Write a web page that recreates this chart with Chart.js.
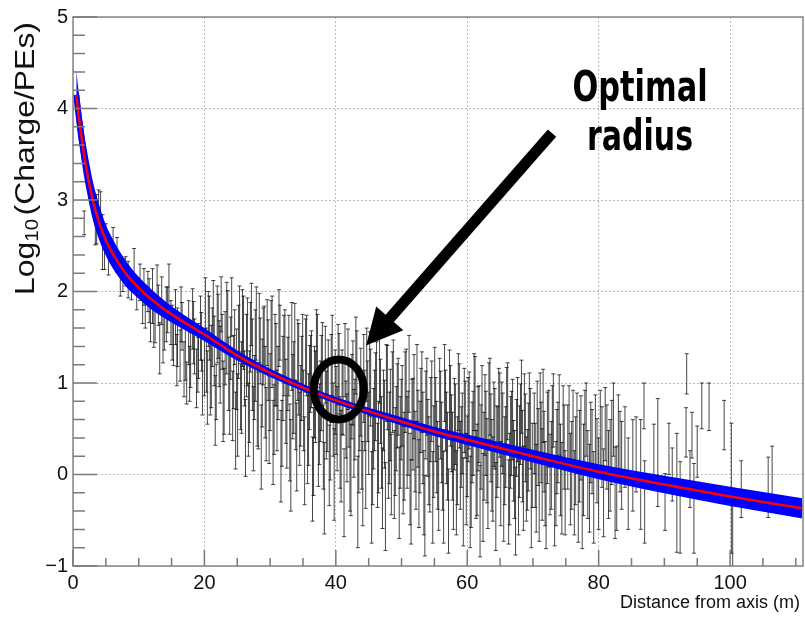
<!DOCTYPE html>
<html>
<head>
<meta charset="utf-8">
<script src="https://cdn.jsdelivr.net/npm/chart.js@4/dist/chart.umd.min.js"></script>
<style>
  html, body { margin: 0; padding: 0; background: #fff; }
  #wrap { width: 805px; height: 617px; }
</style>
</head>
<body>
<div id="wrap"><canvas id="c" width="805" height="617"></canvas></div>
<script>
// ---- Measured points: distance from axis (m), log10 charge, half error ----
const ptX = [
  1.7, 3.4, 3.6, 3.9, 4.2, 4.5, 4.8, 5.0, 5.4, 6.1, 6.7, 7.2, 7.6, 8.0, 8.4, 8.9, 9.3, 9.7, 10.2,
  10.6, 11.0, 11.4, 11.8, 12.1, 12.5, 12.8, 13.2, 13.5, 13.9, 14.2, 14.6, 14.9, 15.3, 15.6, 15.9, 16.3, 16.6, 16.9, 17.3, 17.6, 17.9, 18.2, 18.5, 18.8, 19.1, 19.4, 19.7, 20.0,
  10.8, 11.6, 12.3, 13.0, 13.7, 14.4, 15.1, 15.8, 16.45, 17.1, 17.75, 18.35, 19.0, 19.55,
  20.3, 20.6, 20.9, 21.2, 21.5, 21.8, 22.1, 22.4, 22.7, 23.0, 23.4, 23.7, 24.0, 24.3, 24.6, 24.9,
  20.15, 20.45, 20.75, 21.05, 21.35, 21.65, 21.95, 22.25, 22.55, 22.85, 23.15, 23.55, 23.85, 24.15, 24.45, 24.75,
  25.2, 25.5, 25.8, 26.1, 26.4, 26.7, 27.0, 27.3, 27.6, 27.9, 28.2, 28.5, 28.8, 29.1, 29.4, 29.7,
  25.05, 25.35, 25.65, 25.95, 26.25, 26.55, 26.85, 27.15, 27.45, 27.75, 28.05, 28.35, 28.65, 28.95, 29.25, 29.55, 29.85,
  30.0, 30.3, 30.6, 30.9, 31.2, 31.5, 31.8, 32.1, 32.4, 32.7, 33.0, 33.3, 33.6, 33.9, 34.2, 34.5, 34.8,
  30.15, 30.45, 30.75, 31.05, 31.35, 31.65, 31.95, 32.25, 32.55, 32.85, 33.15, 33.45, 33.75, 34.05, 34.35, 34.65, 34.95,
  35.1, 35.4, 35.7, 36.0, 36.3, 36.6, 36.9, 37.2, 37.5, 37.8, 38.1, 38.4, 38.7, 39.0, 39.3, 39.6, 39.9,
  35.25, 35.55, 35.85, 36.15, 36.45, 36.75, 37.05, 37.35, 37.65, 37.95, 38.25, 38.55, 38.85, 39.15, 39.45, 39.75, 40.05,
  40.2, 40.5, 40.8, 41.1, 41.4, 41.7, 42.0, 42.3, 42.6, 42.9, 43.2, 43.5, 43.8, 44.1, 44.4, 44.7,
  40.35, 40.65, 40.95, 41.25, 41.55, 41.85, 42.15, 42.45, 42.75, 43.05, 43.35, 43.65, 43.95, 44.25, 44.55, 44.85,
  45.0, 45.3, 45.6, 45.9, 46.2, 46.5, 46.8, 47.1, 47.4, 47.7, 48.0, 48.3, 48.6, 48.9, 49.2, 49.5, 49.8,
  45.15, 45.45, 45.75, 46.05, 46.35, 46.65, 46.95, 47.25, 47.55, 47.85, 48.15, 48.45, 48.75, 49.05, 49.35, 49.65, 49.95,
  50.1, 50.4, 50.7, 51.0, 51.3, 51.6, 51.9, 52.2, 52.5, 52.8, 53.1, 53.4, 53.7, 54.0, 54.3, 54.6, 54.9,
  50.25, 50.55, 50.85, 51.15, 51.45, 51.75, 52.05, 52.35, 52.65, 52.95, 53.25, 53.55, 53.85, 54.15, 54.45, 54.75,
  55.2, 55.5, 55.8, 56.1, 56.4, 56.7, 57.0, 57.3, 57.6, 57.9, 58.2, 58.5, 58.8, 59.1, 59.4, 59.7,
  55.05, 55.35, 55.65, 55.95, 56.25, 56.55, 56.85, 57.15, 57.45, 57.75, 58.05, 58.35, 58.65, 58.95, 59.25, 59.55, 59.85,
  60.0, 60.3, 60.6, 60.9, 61.2, 61.5, 61.8, 62.1, 62.4, 62.7, 63.0, 63.3, 63.6, 63.9, 64.2, 64.5, 64.8,
  60.15, 60.45, 60.75, 61.05, 61.35, 61.65, 61.95, 62.25, 62.55, 62.85, 63.15, 63.45, 63.75, 64.05, 64.35, 64.65, 64.95,
  65.1, 65.4, 65.7, 66.0, 66.3, 66.6, 66.9, 67.2, 67.5, 67.8, 68.1, 68.4, 68.7, 69.0, 69.3, 69.6, 69.9,
  65.25, 65.55, 65.85, 66.15, 66.45, 66.75, 67.05, 67.35, 67.65, 67.95, 68.25, 68.55, 68.85, 69.15, 69.45, 69.75,
  70.2, 70.5, 70.8, 71.1, 71.4, 71.7, 72.0, 72.4, 72.8, 73.1, 73.5, 73.8, 74.2, 74.6, 74.9,
  70.35, 70.65, 70.95, 71.25, 71.55, 71.85, 72.2, 72.6, 72.95, 73.3, 73.65, 74.0, 74.4, 74.75,
  75.3, 75.7, 76.1, 76.5, 76.9, 77.3, 77.7, 78.1, 78.6, 79.0, 79.5, 80.0, 80.5, 81.0, 81.5, 82.0, 82.5, 83.0, 83.5, 84.0, 84.5,
  75.5, 75.9, 76.3, 76.7, 77.1, 77.5, 77.9, 78.35, 78.8, 79.25, 79.75, 80.25, 80.75, 81.25, 81.75, 82.25, 82.75, 83.25,
  85.2, 85.7, 86.4, 86.9, 87.0, 88.4, 89.0, 90.1, 90.7, 91.2, 91.9, 92.4, 93.3, 93.4, 93.9, 94.2, 94.5, 95.0, 95.7, 96.8, 99.1, 100.2, 100.4, 101.7, 105.8, 106.4
];
const ptY = [
  2.75, 2.64, 2.79, 3.0, 2.94, 2.54, 2.46, 2.62, 2.3, 2.55, 2.4, 2.15, 2.18, 2.22, 2.13, 2.05, 2.25, 1.95, 2.1,
  1.85, 1.8, 2.0, 1.7, 1.95, 1.62, 2.05, 1.38, 1.9, 1.58, 1.75, 2.02, 1.66, 1.45, 1.72, 1.5, 1.3, 1.62, 1.15, 1.0, 1.55, 1.25, 1.7, 1.4, 1.05, 1.35, 1.6, 0.95, 1.2,
  2.05, 1.9, 1.65, 1.85, 1.5, 1.8, 1.55, 1.25, 1.75, 1.35, 1.1, 1.55, 1.2, 1.45,
  1.25, 1.7, 1.05, 1.5, 1.35, 0.9, 1.62, 1.2, 1.45, 0.8, 1.6, 1.1, 1.38, 0.75, 1.5, 1.15,
  1.85, 0.95, 1.6, 1.18, 1.8, 0.7, 1.64, 1.32, 1.86, 0.8, 1.38, 1.67, 0.9, 1.83, 1.12, 0.48,
  1.45, 0.85, 1.6, 1.05, 1.3, 0.6, 1.5, 1.2, 0.95, 1.65, 0.7, 1.35, 1.0, 1.5, 0.55, 1.25,
  0.65, 1.7, 0.95, 1.55, 0.4, 1.45, 0.85, 1.75, 0.5, 1.3, 0.75, 1.6, 0.3, 1.4, 0.9, 1.55, 0.6,
  0.9, 1.45, 0.6, 1.2, 1.0, 1.55, 0.45, 1.3, 0.8, 1.1, 0.35, 1.4, 0.95, 0.65, 1.25, 0.5, 1.05,
  1.5, 0.35, 1.25, 0.7, 1.6, 0.2, 1.05, 1.4, 0.55, 1.3, 0.1, 0.85, 1.45, 0.3, 1.15, 0.75, 1.35,
  0.7, 1.3, 0.4, 0.95, 1.15, 0.25, 0.85, 1.35, 0.55, 1.0, 0.3, 1.2, 0.75, 0.1, 1.05, 0.6, 0.9,
  0.15, 1.3, 0.6, 1.1, -0.05, 0.9, 1.4, 0.35, 0.8, 1.2, -0.15, 0.65, 1.05, 0.4, 1.3, 0.0, 0.7,
  0.5, 1.1, 0.2, 0.85, 1.25, 0.4, 0.75, 0.05, 1.0, 0.6, 1.15, 0.3, 0.9, -0.1, 0.7, 1.2,
  1.2, 0.35, 0.9, -0.2, 0.6, 1.15, 0.1, 0.85, 0.45, 1.3, -0.3, 0.7, 0.3, 1.05, 0.15, 0.8,
  0.45, 0.95, 0.15, 0.7, 1.05, 0.3, 0.8, -0.15, 0.55, 1.0, 0.2, 0.65, 0.9, 0.0, 0.5, 0.85, 0.35,
  1.1, -0.25, 0.5, 0.85, 0.1, 1.2, 0.35, 0.7, -0.35, 0.95, 0.4, 0.0, 1.05, 0.25, 0.75, -0.2, 0.6,
  0.75, 0.2, 0.95, 0.45, -0.05, 0.6, 0.85, 0.1, 0.5, 0.3, 0.9, -0.2, 0.65, 0.4, 0.05, 0.8, 0.25,
  0.05, 0.9, 0.35, 1.1, -0.3, 0.55, 0.25, 1.0, -0.1, 0.7, 0.4, -0.45, 0.85, 0.15, 0.6, -0.25,
  0.6, 0.1, 0.85, 0.35, -0.25, 0.7, 0.2, 0.9, 0.45, -0.1, 0.55, 0.15, 0.75, 0.3, -0.3, 0.6,
  0.95, 0.3, -0.15, 0.65, 0.05, 1.0, 0.4, -0.4, 0.75, 0.2, 0.55, -0.2, 0.9, 0.1, 0.45, 0.7, -0.05,
  0.2, 0.7, -0.1, 0.45, 0.85, 0.05, 0.55, 0.3, -0.25, 0.65, 0.15, 0.8, 0.4, -0.05, 0.5, 0.25, 0.7,
  0.6, -0.3, 0.35, 0.9, 0.0, 0.5, -0.4, 0.75, 0.2, 0.45, -0.15, 0.85, 0.1, 0.55, -0.35, 0.3, 0.65,
  -0.1, 0.45, 0.15, 0.75, -0.3, 0.35, 0.6, 0.0, 0.4, -0.2, 0.55, 0.2, 0.7, -0.05, 0.3, 0.5, 0.1,
  0.55, -0.25, 0.3, 0.8, -0.05, 0.45, 0.15, -0.4, 0.6, 0.25, 0.85, -0.15, 0.4, 0.05, 0.65, -0.3,
  0.45, -0.15, 0.3, 0.65, 0.0, 0.25, -0.35, 0.5, 0.1, 0.7, -0.1, 0.35, 0.05, 0.55, -0.2,
  0.1, 0.6, -0.25, 0.35, 0.75, -0.1, 0.4, 0.0, 0.55, -0.3, 0.25, 0.65, -0.15, 0.3,
  0.3, -0.05, 0.5, 0.15, -0.3, 0.4, 0.05, 0.6, -0.15, 0.25, 0.45, -0.1, 0.3, 0.55, 0.0, 0.35, -0.2, 0.45, 0.1, 0.3, -0.1,
  0.55, 0.1, -0.2, 0.45, 0.2, -0.35, 0.5, 0.0, 0.35, -0.25, 0.15, 0.5, -0.2, 0.3, 0.1, 0.6, -0.15, 0.25,
  0.1, 0.22, 0.0, 0.75, -0.3, 0.27, 0.24, -0.3, 0.28, 0.0, -0.2, -0.36, 0.46, 1.1, -0.05, 0.43, -0.37, 0.25, 0.75, 0.74, 0.54, -0.15, -0.6, -0.16, -0.14, 0.02
];
const ptErr = [
  0.13, 0.13, 0.27, 0.11, 0.15, 0.3, 0.22, 0.12, 0.12, 0.15, 0.19, 0.2, 0.18, 0.16, 0.2, 0.14, 0.22, 0.15, 0.2,
  0.2, 0.2, 0.22, 0.25, 0.3, 0.18, 0.24, 0.28, 0.26, 0.22, 0.3, 0.28, 0.24, 0.26, 0.3, 0.32, 0.28, 0.26, 0.3, 0.23, 0.35, 0.3, 0.33, 0.3, 0.32, 0.3, 0.35, 0.3, 0.34,
  0.2, 0.24, 0.26, 0.22, 0.28, 0.25, 0.3, 0.28, 0.3, 0.32, 0.3, 0.34, 0.3, 0.32,
  0.35, 0.3, 0.4, 0.32, 0.38, 0.3, 0.35, 0.42, 0.3, 0.36, 0.5, 0.4, 0.34, 0.38, 0.3, 0.44,
  0.3, 0.4, 0.35, 0.45, 0.32, 0.38, 0.42, 0.36, 0.3, 0.44, 0.4, 0.34, 0.46, 0.32, 0.4, 0.42,
  0.4, 0.36, 0.42, 0.3, 0.45, 0.4, 0.38, 0.5, 0.35, 0.4, 0.42, 0.36, 0.48, 0.34, 0.4, 0.44,
  0.45, 0.36, 0.5, 0.4, 0.42, 0.48, 0.5, 0.34, 0.46, 0.5, 0.44, 0.38, 0.46, 0.42, 0.5, 0.36, 0.48,
  0.42, 0.5, 0.38, 0.45, 0.4, 0.3, 0.36, 0.44, 0.46, 0.4, 0.42, 0.48, 0.5, 0.38, 0.44, 0.4, 0.46,
  0.4, 0.46, 0.5, 0.44, 0.42, 0.5, 0.46, 0.4, 0.48, 0.44, 0.5, 0.46, 0.42, 0.48, 0.5, 0.44, 0.4,
  0.44, 0.4, 0.5, 0.46, 0.42, 0.48, 0.5, 0.4, 0.44, 0.52, 0.46, 0.42, 0.5, 0.44, 0.48, 0.4, 0.46,
  0.48, 0.44, 0.5, 0.42, 0.46, 0.5, 0.4, 0.48, 0.44, 0.46, 0.5, 0.48, 0.42, 0.46, 0.44, 0.5, 0.48,
  0.46, 0.44, 0.5, 0.42, 0.4, 0.48, 0.45, 0.5, 0.46, 0.44, 0.42, 0.5, 0.48, 0.46, 0.44, 0.4,
  0.44, 0.5, 0.46, 0.48, 0.42, 0.44, 0.5, 0.46, 0.48, 0.42, 0.5, 0.44, 0.46, 0.48, 0.52, 0.44,
  0.45, 0.42, 0.48, 0.44, 0.4, 0.5, 0.46, 0.44, 0.48, 0.42, 0.46, 0.5, 0.44, 0.48, 0.46, 0.42, 0.5,
  0.46, 0.5, 0.44, 0.48, 0.46, 0.42, 0.5, 0.44, 0.48, 0.46, 0.5, 0.44, 0.42, 0.48, 0.46, 0.5, 0.44,
  0.44, 0.48, 0.42, 0.46, 0.5, 0.44, 0.46, 0.48, 0.42, 0.5, 0.44, 0.46, 0.48, 0.42, 0.46, 0.44, 0.5,
  0.48, 0.44, 0.5, 0.42, 0.46, 0.5, 0.44, 0.42, 0.48, 0.46, 0.5, 0.44, 0.42, 0.48, 0.46, 0.5,
  0.46, 0.48, 0.42, 0.44, 0.5, 0.44, 0.48, 0.46, 0.42, 0.5, 0.44, 0.48, 0.46, 0.44, 0.48, 0.42,
  0.44, 0.5, 0.46, 0.48, 0.44, 0.42, 0.5, 0.46, 0.44, 0.48, 0.5, 0.46, 0.42, 0.48, 0.44, 0.46, 0.5,
  0.44, 0.42, 0.48, 0.46, 0.44, 0.5, 0.42, 0.46, 0.48, 0.44, 0.46, 0.42, 0.48, 0.46, 0.44, 0.5, 0.46,
  0.46, 0.5, 0.44, 0.42, 0.48, 0.46, 0.5, 0.44, 0.48, 0.46, 0.44, 0.42, 0.5, 0.46, 0.48, 0.44, 0.46,
  0.46, 0.44, 0.48, 0.42, 0.46, 0.5, 0.44, 0.48, 0.42, 0.46, 0.44, 0.5, 0.4, 0.46, 0.48, 0.44, 0.46,
  0.46, 0.48, 0.44, 0.42, 0.5, 0.46, 0.44, 0.48, 0.46, 0.5, 0.4, 0.46, 0.48, 0.44, 0.46, 0.5,
  0.44, 0.48, 0.42, 0.46, 0.5, 0.44, 0.46, 0.42, 0.48, 0.4, 0.46, 0.44, 0.5, 0.42, 0.46,
  0.46, 0.42, 0.48, 0.44, 0.4, 0.46, 0.5, 0.44, 0.42, 0.48, 0.46, 0.44, 0.5, 0.46,
  0.46, 0.5, 0.42, 0.48, 0.44, 0.46, 0.5, 0.4, 0.48, 0.46, 0.42, 0.5, 0.44, 0.4, 0.48, 0.46, 0.5, 0.42, 0.48, 0.44, 0.5,
  0.42, 0.48, 0.46, 0.44, 0.5, 0.46, 0.42, 0.48, 0.44, 0.5, 0.46, 0.42, 0.48, 0.46, 0.5, 0.4, 0.46, 0.44,
  0.5, 0.41, 0.6, 0.25, 0.45, 0.28, 0.59, 0.31, 0.28, 0.29, 0.65, 0.5, 0.27, 0.22, 0.31, 0.25, 0.49, 0.28, 0.25, 0.26, 0.27, 0.71, 0.45, 0.31, 0.33, 0.29
];

// ---- Fitted lateral distribution and its uncertainty band ----
const fitX = [0.5, 0.8, 1, 1.5, 2, 2.5, 3, 4, 5, 6, 8, 10, 12, 15, 20, 25, 30, 35, 40, 45, 50, 55, 60, 70, 80, 90, 100, 111];
const fitY = [4.15, 3.95, 3.85, 3.58, 3.36, 3.17, 3.0, 2.75, 2.56, 2.42, 2.2, 2.04, 1.91, 1.75, 1.53, 1.30, 1.11, 0.95, 0.81, 0.69, 0.58, 0.47, 0.38, 0.20, 0.03, -0.11, -0.24, -0.37];
const fitErr = [0.28, 0.27, 0.26, 0.24, 0.23, 0.22, 0.21, 0.19, 0.17, 0.16, 0.14, 0.12, 0.11, 0.09, 0.07, 0.055, 0.045, 0.04, 0.035, 0.04, 0.045, 0.05, 0.058, 0.07, 0.082, 0.095, 0.105, 0.11];

// ---- Axis ranges and tick labels ----
const xRange = [0, 111.1];
const yRange = [-1, 5];
const xTickStep = 20;
const yTickStep = 1;
const xTitle = 'Distance from axis (m)';

// ---- Annotation: marker at the optimal radius ----
const noteLines = ['Optimal', 'radius'];
const ringAt = { x: 40.45, y: 0.93 };
const arrowFrom = { x: 72.9, y: 3.73 };
const arrowTo = { x: 44.6, y: 1.41 };
const noteAt = { x: 86.3, y: [4.08, 3.55] };

const fitPts = fitX.map((x, i) => ({ x, y: fitY[i] }));
const bandHi = fitX.map((x, i) => ({ x, y: fitY[i] + fitErr[i] }));
const bandLo = fitX.map((x, i) => ({ x, y: fitY[i] - fitErr[i] }));
const points = ptX.map((x, i) => ({ x, y: ptY[i] }));

Chart.defaults.font.family = '"Liberation Sans", Arial, Helvetica, sans-serif';

// Vertical error bars with small caps, drawn beneath the fit band
const errorBars = {
  id: 'errorBars',
  beforeDatasetsDraw(chart) {
    const { ctx, chartArea: a, scales: { y } } = chart;
    const meta = chart.getDatasetMeta(4);
    ctx.save();
    ctx.beginPath();
    ctx.rect(a.left, a.top, a.right - a.left, a.bottom - a.top);
    ctx.clip();
    ctx.strokeStyle = 'rgba(0,0,0,0.72)';
    ctx.lineWidth = 1;
    meta.data.forEach((el, i) => {
      const px = el.x;
      const top = y.getPixelForValue(ptY[i] + ptErr[i]);
      const bot = y.getPixelForValue(ptY[i] - ptErr[i]);
      ctx.beginPath();
      ctx.moveTo(px, top); ctx.lineTo(px, bot);
      ctx.moveTo(px - 2, top); ctx.lineTo(px + 2, top);
      ctx.moveTo(px - 2, bot); ctx.lineTo(px + 2, bot);
      ctx.stroke();
    });
    ctx.restore();
  }
};

// Frame, inward tick marks, axis titles and the annotation
const decorations = {
  id: 'decorations',
  afterDatasetsDraw(chart) {
    const { ctx, chartArea: a, scales: { x, y } } = chart;
    ctx.save();
    // frame
    ctx.strokeStyle = '#858585';
    ctx.lineWidth = 1.5;
    ctx.strokeRect(a.left, a.top, a.right - a.left, a.bottom - a.top);
    // y ticks (major every 1, minor every 0.2)
    ctx.strokeStyle = '#7a7a7a';
    ctx.lineWidth = 1.5;
    ctx.beginPath();
    for (let k = 0; k <= 30; k++) {
      const v = yRange[0] + k * 0.2;
      const py = y.getPixelForValue(v);
      const len = (k % 5 === 0) ? 24 : 12;
      ctx.moveTo(a.left, py); ctx.lineTo(a.left + len, py);
    }
    // x ticks (major every 20, minor every 5)
    for (let v = 0; v <= 110; v += 5) {
      const px = x.getPixelForValue(v);
      const len = (v % 20 === 0) ? 16 : 8;
      ctx.moveTo(px, a.bottom); ctx.lineTo(px, a.bottom - len);
    }
    ctx.stroke();

    // x title, right aligned under the axis
    ctx.fillStyle = '#111';
    ctx.font = '18px "Liberation Sans", Arial, sans-serif';
    ctx.textAlign = 'right';
    ctx.textBaseline = 'alphabetic';
    ctx.fillText(xTitle, 800, 608);

    // y title: Log10(Charge/PEs) with subscript, reading upwards
    ctx.save();
    ctx.translate(33.5, 158.5);
    ctx.rotate(-Math.PI / 2);
    const big = '28px "Liberation Sans", Arial, sans-serif';
    const small = '18px "Liberation Sans", Arial, sans-serif';
    ctx.font = big; const w1 = ctx.measureText('Log').width;
    ctx.font = small; const w2 = ctx.measureText('10').width;
    ctx.font = big; const w3 = ctx.measureText('(Charge/PEs)').width;
    const gap = 3;
    const total = w1 + w2 + gap + w3;
    const sx = 273 / total;
    ctx.scale(sx, 1);
    ctx.textAlign = 'left';
    let cx = -total / 2;
    ctx.font = big; ctx.fillText('Log', cx, 0); cx += w1;
    ctx.font = small; ctx.fillText('10', cx, 4); cx += w2 + gap;
    ctx.font = big; ctx.fillText('(Charge/PEs)', cx, 0);
    ctx.restore();

    // ring around the optimal radius
    const rx = x.getPixelForValue(ringAt.x);
    const ry = y.getPixelForValue(ringAt.y);
    ctx.strokeStyle = '#000';
    ctx.lineWidth = 8;
    ctx.beginPath();
    ctx.ellipse(rx, ry, 25, 30, 0, 0, Math.PI * 2);
    ctx.stroke();

    // arrow pointing at it
    const x0 = x.getPixelForValue(arrowFrom.x), y0 = y.getPixelForValue(arrowFrom.y);
    const x1 = x.getPixelForValue(arrowTo.x), y1 = y.getPixelForValue(arrowTo.y);
    const dx = x1 - x0, dy = y1 - y0, L = Math.hypot(dx, dy);
    const ux = dx / L, uy = dy / L, nx = -uy, ny = ux;
    const headLen = 36, headHalf = 18;
    const bx = x1 - ux * headLen, by = y1 - uy * headLen;
    ctx.lineWidth = 11;
    ctx.lineCap = 'butt';
    ctx.beginPath();
    ctx.moveTo(x0, y0); ctx.lineTo(bx + ux * 4, by + uy * 4);
    ctx.stroke();
    ctx.fillStyle = '#000';
    ctx.beginPath();
    ctx.moveTo(x1, y1);
    ctx.lineTo(bx + nx * headHalf, by + ny * headHalf);
    ctx.lineTo(bx - nx * headHalf, by - ny * headHalf);
    ctx.closePath();
    ctx.fill();

    // label
    const tx = x.getPixelForValue(noteAt.x);
    ctx.font = 'bold 43px "DejaVu Sans Condensed", "Liberation Sans Narrow", "Open Sans", sans-serif';
    ctx.textAlign = 'center';
    const targetW = [135, 106];
    noteLines.forEach((t, i) => {
      const ty = y.getPixelForValue(noteAt.y[i]);
      const w = ctx.measureText(t).width;
      ctx.save();
      ctx.translate(tx, ty);
      ctx.scale(targetW[i] / w, 1);
      ctx.fillText(t, 0, 0);
      ctx.restore();
    });
    ctx.restore();
  }
};

new Chart(document.getElementById('c'), {
  type: 'scatter',
  data: {
    datasets: [
      { type: 'line', data: fitPts, borderColor: '#ff0000', borderWidth: 2.5, pointRadius: 0, fill: false, cubicInterpolationMode: 'monotone' },
      { type: 'line', data: fitPts, borderColor: '#0000ff', borderWidth: 6, pointRadius: 0, fill: false, cubicInterpolationMode: 'monotone' },
      { type: 'line', data: bandHi, borderColor: 'rgba(0,0,0,0)', borderWidth: 0, backgroundColor: '#0000ff', pointRadius: 0, fill: '+1', cubicInterpolationMode: 'monotone' },
      { type: 'line', data: bandLo, borderColor: 'rgba(0,0,0,0)', borderWidth: 0, pointRadius: 0, fill: false, cubicInterpolationMode: 'monotone' },
      { type: 'scatter', data: points, pointRadius: 0, pointHoverRadius: 0 }
    ]
  },
  options: {
    responsive: false,
    animation: false,
    devicePixelRatio: 1,
    layout: { padding: { top: 15, right: 2, left: 0, bottom: 0 } },
    plugins: { legend: { display: false }, tooltip: { enabled: false } },
    scales: {
      x: {
        type: 'linear', min: xRange[0], max: xRange[1],
        afterFit(s) { s.height = 51; },
        ticks: { stepSize: xTickStep, includeBounds: false, padding: 5, color: '#111', font: { size: 20 }, maxRotation: 0 },
        grid: { color: '#bcbcbc', lineWidth: 1, drawTicks: false },
        border: { display: false, dash: [2, 2] }
      },
      y: {
        type: 'linear', min: yRange[0], max: yRange[1],
        afterFit(s) { s.width = 73; },
        ticks: { stepSize: yTickStep, padding: 5, color: '#111', font: { size: 20 },
                 callback: v => String(v).replace('-', '\u2212') },
        grid: { color: '#bcbcbc', lineWidth: 1, drawTicks: false },
        border: { display: false, dash: [2, 2] }
      }
    }
  },
  plugins: [errorBars, decorations]
});
</script>
</body>
</html>
